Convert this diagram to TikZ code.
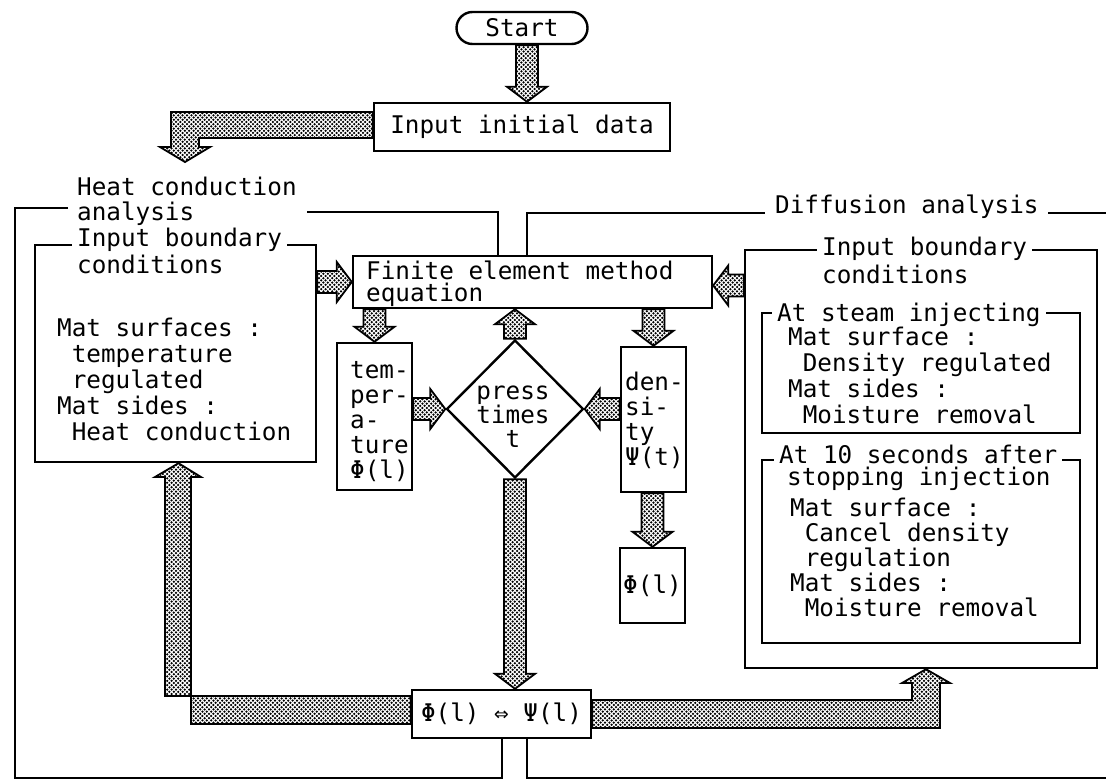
\documentclass[tikz,border=0pt]{standalone}
\usepackage{fontspec}
\newfontfamily\dotfont{DejaVu Sans Mono}
\usetikzlibrary{calc,patterns,shapes.geometric,shapes.misc}

% dotted fill of the broad arrows
\pgfdeclarepatternformonly{stipple}{\pgfqpoint{-1.3pt}{-1.3pt}}{\pgfqpoint{3.5pt}{3.5pt}}{\pgfqpoint{4.4pt}{4.4pt}}{%
  \pgfpathcircle{\pgfqpoint{0pt}{0pt}}{1.25pt}%
  \pgfpathcircle{\pgfqpoint{2.2pt}{2.2pt}}{1.25pt}%
  \pgfusepath{fill}}

\def\arrsw{11pt}
\def\arrhw{20pt}
\def\arrhl{15pt}
\newcommand{\vblock}[2]{%
  \path[blockarrow] let \p1=#1, \p2=#2, \p3=($(\p2)!\arrhl!(\x2,\y1)$) in
    (\x2-\arrsw,\y1) -- (\x2-\arrsw,\y3) -- (\x2-\arrhw,\y3) -- (\p2)
    -- (\x2+\arrhw,\y3) -- (\x2+\arrsw,\y3) -- (\x2+\arrsw,\y1) -- cycle;}
\newcommand{\hblock}[2]{%
  \path[blockarrow] let \p1=#1, \p2=#2, \p3=($(\p2)!\arrhl!(\x1,\y2)$) in
    (\x1,\y2-\arrsw) -- (\x3,\y2-\arrsw) -- (\x3,\y2-\arrhw) -- (\p2)
    -- (\x3,\y2+\arrhw) -- (\x3,\y2+\arrsw) -- (\x1,\y2+\arrsw) -- cycle;}
\newcommand{\indentone}{\hspace*{14.6pt}}

\begin{document}
\begin{tikzpicture}[x=1pt,y=-1pt,
  box/.style={draw, line width=2.4pt, inner sep=0pt},
  frame/.style={line width=2.4pt},
  txt/.style={font=\dotfont\fontsize{24.3pt}{#1}\selectfont, inner sep=0pt, align=left},
  txt/.default=25.5pt,
  title/.style={txt, fill=white, inner xsep=5pt, inner ysep=1pt},
  blockarrow/.style={draw, line width=1.8pt, pattern=stipple, line join=miter}]

  \fill[white] (0,0) rectangle (1106,782);
  \useasboundingbox (0,0) rectangle (1106,782);

  % top
  \node[box, rounded rectangle, minimum width=131pt, minimum height=32pt, txt] (start) at (522,28) {Start};
  \node[box, minimum width=296pt, minimum height=48pt, txt] (input) at (522,127) {Input initial data};
  \node[txt=25pt, anchor=base west] (heat) at (77,220) {Heat conduction\\analysis};
  \node[txt, anchor=base west] (diff) at (775,213) {Diffusion analysis};

  % frames
  \draw[frame] (68,208) -- (15,208) -- (15,778) -- (502,778) -- (502,738);
  \draw[frame] (307,212) -- (498,212) -- (498,256);
  \draw[frame] (527,256) -- (527,213) -- (765,213);
  \draw[frame] (1048,213) -- (1106,213);
  \draw[frame] (527,738) -- (527,778) -- (1106,778);

  % heat conduction side
  \node[box, minimum width=281pt, minimum height=217pt] (lbc) at (175.5,353.5) {};
  \node[title, anchor=base west] (lbctitle) at (72,246) {Input boundary};
  \node[txt, anchor=base west] (lbccond) at (77,273) {conditions};
  \node[txt=26pt, anchor=base west] (lbctext) at (57,440)
    {Mat surfaces :\\\indentone temperature\\\indentone regulated\\Mat sides :\\\indentone Heat conduction};

  % centre
  \node[box, minimum width=359pt, minimum height=52pt] (fem) at (532.5,282) {};
  \node[txt=22pt, anchor=base west] (femtext) at (366,301) {Finite element method\\equation};
  \node[box, minimum width=75pt, minimum height=147pt] (temp) at (374.5,416.5) {};
  \node[txt=25pt, anchor=base west] (temptext) at (350,478) {tem-\\per-\\a-\\ture\\Φ(l)};
  \node[box, diamond, minimum width=137pt, minimum height=138pt] (press) at (515,409) {};
  \node[txt=24pt, align=center] (presstext) at (513,417) {press\\times\\t};
  \node[box, minimum width=65pt, minimum height=145pt] (dens) at (653.5,419.5) {};
  \node[txt=25pt, anchor=base west] (denstext) at (625,465) {den-\\si-\\ty\\Ψ(t)};
  \node[box, txt, minimum width=65pt, minimum height=75pt] (phib) at (652.5,585.5) {Φ(l)};
  \node[box, txt, minimum width=179pt, minimum height=48pt] (swap) at (501.5,714) {Φ(l) ⇔ Ψ(l)};

  % diffusion side
  \node[box, minimum width=352pt, minimum height=418pt] (rbc) at (921,459) {};
  \node[title, anchor=base west] (rbctitle) at (817,255) {Input boundary};
  \node[txt, anchor=base west] (rbccond) at (822,283) {conditions};
  \node[box, minimum width=318pt, minimum height=120pt] (steam) at (921,373) {};
  \node[title, anchor=base west] (steamtitle) at (772,321) {At steam injecting};
  \node[txt=26pt, anchor=base west] (steamtext) at (788,423)
    {Mat surface :\\\indentone Density regulated\\Mat sides :\\\indentone Moisture removal};
  \node[box, minimum width=318pt, minimum height=183pt] (after) at (921,551.5) {};
  \node[title, anchor=base west] (aftertitle) at (774,463) {At 10 seconds after};
  \node[txt, anchor=base west] (afterstop) at (787,485) {stopping injection};
  \node[txt=25pt, anchor=base west] (aftertext) at (790,616)
    {Mat surface :\\\indentone Cancel density\\\indentone regulation\\Mat sides :\\\indentone Moisture removal};

  % broad arrows
  \vblock{(start.south)}{([xshift=5pt]input.north)}
  \hblock{(lbc.east)}{(fem.west)}
  \hblock{(rbc.west)}{([yshift=-3.5pt]fem.east)}
  \vblock{(fem.south)}{(temp.north)}
  \vblock{(press.north)}{(fem.south -| press.north)}
  \vblock{(fem.south)}{(dens.north)}
  \hblock{(temp.east)}{(press.west)}
  \hblock{(dens.west)}{(press.east)}
  \vblock{(dens.south)}{(phib.north)}
  \vblock{(press.south)}{(press.south |- swap.north)}

  \coordinate (heatin) at (185,162);
  \path[blockarrow] ($(input.west)+(0,-15)$) -- (171,112) -- (171,147) -- (160,147) -- (heatin)
    -- (210,147) -- (199,147) -- (199,138) -- ($(input.west)+(0,11)$) -- cycle;
  \coordinate (lbcin) at ($(lbc.south)+(3,0)$);
  \path[blockarrow] ($(swap.west)+(0,-18)$) -- (165,696) -- (165,477) -- (155,477) -- (lbcin)
    -- (201,477) -- (191,477) -- (191,724) -- ($(swap.west)+(0,10)$) -- cycle;
  \coordinate (rbcin) at ($(rbc.south)+(5,0)$);
  \path[blockarrow] ($(swap.east)+(0,-14)$) -- (912,700) -- (912,683) -- (902,683) -- (rbcin)
    -- (950,683) -- (940,683) -- (940,728) -- ($(swap.east)+(0,14)$) -- cycle;
\end{tikzpicture}
\end{document}
